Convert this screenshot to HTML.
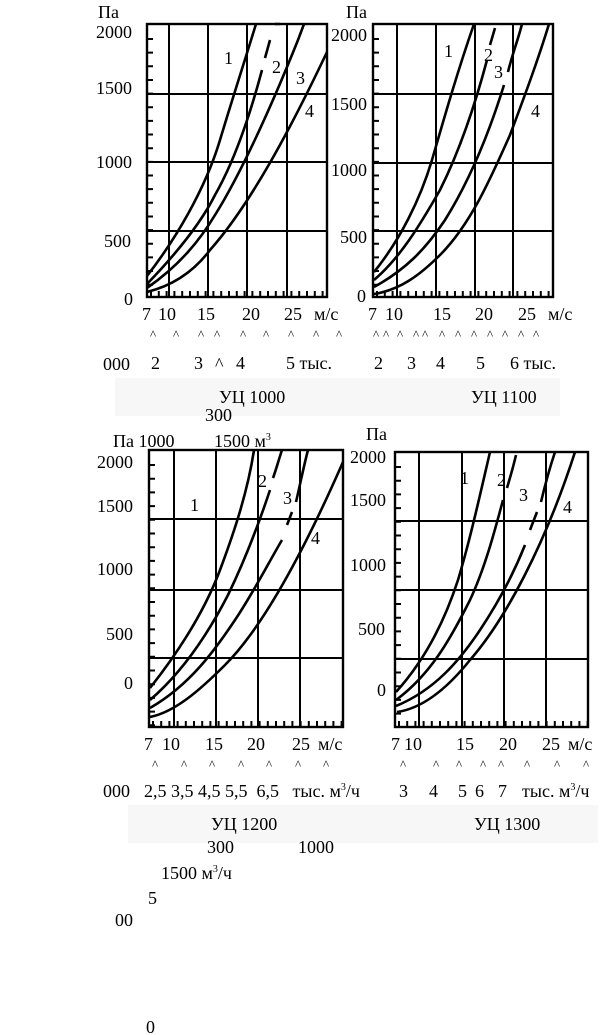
<!DOCTYPE html>
<html><head><meta charset="utf-8"><style>
html,body{margin:0;padding:0;background:#fff;}
svg{display:block;}
text{font-family:"Liberation Serif",serif;font-size:18px;fill:#000;}
.k{font-size:13px;}
.c{fill:none;stroke:#000;stroke-width:2.6;}
.g{stroke:#000;stroke-width:2;}
.f{fill:none;stroke:#000;stroke-width:2.4;}
</style></head><body>
<svg width="609" height="1035" viewBox="0 0 609 1035" xmlns="http://www.w3.org/2000/svg">
<rect x="0" y="0" width="609" height="1035" fill="#fff"/>
<rect x="115" y="378" width="445" height="38" fill="#f7f7f7"/>
<rect x="128" y="805" width="470" height="38" fill="#f7f7f7"/>

<!-- ===== TL: УЦ 1000 ===== -->
<g>
<rect class="f" x="147" y="24" width="180" height="273"/>
<line class="g" x1="147" y1="94" x2="327" y2="94"/>
<line class="g" x1="147" y1="162" x2="327" y2="162"/>
<line class="g" x1="147" y1="231" x2="327" y2="231"/>
<line class="g" x1="169" y1="24" x2="169" y2="297"/>
<line class="g" x1="208" y1="24" x2="208" y2="297"/>
<line class="g" x1="247" y1="24" x2="247" y2="297"/>
<line class="g" x1="287" y1="24" x2="287" y2="297"/>
<line x1="150" y1="30" x2="150" y2="290" stroke="#000" stroke-width="6" stroke-dasharray="2 11.65" transform="translate(0,8)"/>
<line x1="150" y1="294" x2="327" y2="294" stroke="#000" stroke-width="6" stroke-dasharray="2 5.8"/>
<path class="c" d="M147,276 C175,240 205,190 220,140 C232,100 245,60 256,24"/>
<path class="c" d="M147,284 C175,255 200,225 215,195 C235,160 250,115 262,70 M265,58 L270,40 M275,24 L280,24"/>
<path class="c" d="M147,288 C180,265 200,240 215,215 C240,175 270,110 298,40 L304,24"/>
<path class="c" d="M147,292 C175,285 195,270 210,250 C250,205 290,130 327,52"/>
<text x="98" y="18">Па</text>
<text x="96" y="38">2000</text>
<text x="96" y="94">1500</text>
<text x="96" y="168">1000</text>
<text x="104" y="247">500</text>
<text x="124" y="305">0</text>
<text x="142" y="320">7</text>
<text x="158" y="320">10</text>
<text x="197" y="320">15</text>
<text x="242" y="320">20</text>
<text x="284" y="320">25</text>
<text x="314" y="320">м/с</text>
<text class="k" x="150" y="339">^</text><text class="k" x="173" y="339">^</text><text class="k" x="198" y="339">^</text><text class="k" x="214" y="339">^</text><text class="k" x="240" y="339">^</text><text class="k" x="263" y="339">^</text><text class="k" x="288" y="339">^</text><text class="k" x="313" y="339">^</text><text class="k" x="336" y="339">^</text>
<text x="103" y="370">000</text>
<text x="151" y="369">2</text>
<text x="194" y="369">3</text>
<text x="215" y="370" font-size="10">^</text>
<text x="236" y="369">4</text>
<text x="286" y="369">5 тыс.</text>
<text x="219" y="403">УЦ 1000</text>
<text x="205" y="421" font-size="14">300</text>
<text x="272" y="73">2</text>
<text x="296" y="84">3</text>
<text x="305" y="117">4</text>
<text x="224" y="64">1</text>
</g>

<!-- ===== TR: УЦ 1100 ===== -->
<g>
<rect class="f" x="373" y="24" width="180" height="273"/>
<line class="g" x1="373" y1="94" x2="553" y2="94"/>
<line class="g" x1="373" y1="163" x2="553" y2="163"/>
<line class="g" x1="373" y1="231" x2="553" y2="231"/>
<line class="g" x1="397" y1="24" x2="397" y2="297"/>
<line class="g" x1="436" y1="24" x2="436" y2="297"/>
<line class="g" x1="475" y1="24" x2="475" y2="297"/>
<line class="g" x1="513" y1="24" x2="513" y2="297"/>
<line x1="376" y1="30" x2="376" y2="290" stroke="#000" stroke-width="6" stroke-dasharray="2 11.65" transform="translate(0,8)"/>
<line x1="376" y1="294" x2="553" y2="294" stroke="#000" stroke-width="6" stroke-dasharray="2 5.8"/>
<path class="c" d="M374,272 C400,240 420,200 432,160 C445,115 458,70 474,24"/>
<path class="c" d="M374,280 C400,258 420,225 440,190 C460,150 475,105 487,60 M490,45 L495,28"/>
<path class="c" d="M374,287 C405,270 425,250 445,220 C470,180 490,130 504,85 M508,72 C512,55 518,40 522,24"/>
<path class="c" d="M374,294 C400,290 420,275 440,255 C470,225 490,180 510,135 C525,95 538,60 549,24"/>
<text x="346" y="18">Па</text>
<text x="331" y="41">2000</text>
<text x="331" y="110">1500</text>
<text x="331" y="176">1000</text>
<text x="340" y="243">500</text>
<text x="357" y="302">0</text>
<text x="368" y="320">7</text>
<text x="385" y="320">10</text>
<text x="433" y="320">15</text>
<text x="475" y="320">20</text>
<text x="518" y="320">25</text>
<text x="548" y="320">м/с</text>
<text class="k" x="373" y="339">^</text><text class="k" x="383" y="339">^</text><text class="k" x="397" y="339">^</text><text class="k" x="413" y="339">^</text><text class="k" x="422" y="339">^</text><text class="k" x="439" y="339">^</text><text class="k" x="455" y="339">^</text><text class="k" x="471" y="339">^</text><text class="k" x="487" y="339">^</text><text class="k" x="502" y="339">^</text><text class="k" x="518" y="339">^</text><text class="k" x="533" y="339">^</text>
<text x="374" y="369">2</text>
<text x="407" y="369">3</text>
<text x="436" y="369">4</text>
<text x="476" y="369">5</text>
<text x="510" y="369">6 тыс.</text>
<text x="471" y="403">УЦ 1100</text>
<text x="444" y="57">1</text>
<text x="484" y="61">2</text>
<text x="494" y="78">3</text>
<text x="531" y="117">4</text>
</g>

<!-- ===== BL: УЦ 1200 ===== -->
<g>
<rect class="f" x="149" y="450" width="194" height="277"/>
<line class="g" x1="149" y1="519" x2="343" y2="519"/>
<line class="g" x1="149" y1="590" x2="343" y2="590"/>
<line class="g" x1="149" y1="658" x2="343" y2="658"/>
<line class="g" x1="174" y1="450" x2="174" y2="727"/>
<line class="g" x1="216" y1="450" x2="216" y2="727"/>
<line class="g" x1="258" y1="450" x2="258" y2="727"/>
<line class="g" x1="300" y1="450" x2="300" y2="727"/>
<line x1="152" y1="456" x2="152" y2="720" stroke="#000" stroke-width="6" stroke-dasharray="2 11.7" transform="translate(0,8)"/>
<line x1="152" y1="724" x2="343" y2="724" stroke="#000" stroke-width="6" stroke-dasharray="2 6.2"/>
<path class="c" d="M150,688 C180,650 205,610 220,570 C235,530 248,490 254,450"/>
<path class="c" d="M150,700 C185,670 210,630 228,595 C245,560 260,520 270,490 M273,478 C276,470 278,462 282,450"/>
<path class="c" d="M150,708 C190,685 215,650 235,620 C255,590 270,560 282,540 M287,525 L292,512 M296,502 C300,485 304,465 308,450"/>
<path class="c" d="M150,717 C175,712 200,690 225,665 C260,630 300,560 343,462"/>
<text x="113" y="447">Па 1000</text>
<text x="214" y="447">1500 м<tspan font-size="10" dy="-7">3</tspan></text>
<text x="97" y="468">2000</text>
<text x="97" y="512">1500</text>
<text x="97" y="575">1000</text>
<text x="106" y="640">500</text>
<text x="124" y="689">0</text>
<text x="144" y="750">7</text>
<text x="162" y="750">10</text>
<text x="205" y="750">15</text>
<text x="247" y="750">20</text>
<text x="292" y="750">25</text>
<text x="318" y="750">м/с</text>
<text class="k" x="152" y="769">^</text><text class="k" x="181" y="769">^</text><text class="k" x="209" y="769">^</text><text class="k" x="238" y="769">^</text><text class="k" x="266" y="769">^</text><text class="k" x="295" y="769">^</text><text class="k" x="323" y="769">^</text>
<text x="103" y="797">000</text>
<text x="144" y="797">2,5 3,5 4,5 5,5 &#160;6,5 &#160; тыс. м<tspan font-size="10" dy="-7">3</tspan><tspan dy="7">/ч</tspan></text>
<text x="211" y="830">УЦ 1200</text>
<text x="207" y="853" font-size="15">300</text>
<text x="298" y="853" font-size="15">1000</text>
<text x="161" y="879">1500 м<tspan font-size="10" dy="-7">3</tspan><tspan dy="7">/ч</tspan></text>
<text x="148" y="904">5</text>
<text x="115" y="926">00</text>
<text x="146" y="1033">0</text>
<text x="190" y="511">1</text>
<text x="258" y="487">2</text>
<text x="283" y="504">3</text>
<text x="311" y="544">4</text>
</g>

<!-- ===== BR: УЦ 1300 ===== -->
<g>
<rect class="f" x="395" y="452" width="193" height="275"/>
<line class="g" x1="395" y1="521" x2="588" y2="521"/>
<line class="g" x1="395" y1="590" x2="588" y2="590"/>
<line class="g" x1="395" y1="659" x2="588" y2="659"/>
<line class="g" x1="419" y1="452" x2="419" y2="727"/>
<line class="g" x1="462" y1="452" x2="462" y2="727"/>
<line class="g" x1="504" y1="452" x2="504" y2="727"/>
<line class="g" x1="546" y1="452" x2="546" y2="727"/>
<line x1="398" y1="458" x2="398" y2="720" stroke="#000" stroke-width="6" stroke-dasharray="2 11.7" transform="translate(0,8)"/>
<line x1="398" y1="724" x2="588" y2="724" stroke="#000" stroke-width="6" stroke-dasharray="2 6.2"/>
<path class="c" d="M396,692 C425,660 445,620 458,580 C470,540 480,495 490,452"/>
<path class="c" d="M396,700 C430,675 450,640 470,600 C485,568 495,530 503,500 M507,488 C510,478 513,468 516,455"/>
<path class="c" d="M396,706 C435,690 460,660 480,630 C500,600 515,570 525,545 M530,530 L537,512 M541,502 C545,485 550,467 555,452"/>
<path class="c" d="M397,712 C425,708 450,685 470,660 C505,620 545,545 575,452"/>
<text x="366" y="440">Па</text>
<text x="350" y="463">2000</text>
<text x="350" y="506">1500</text>
<text x="350" y="571">1000</text>
<text x="358" y="635">500</text>
<text x="377" y="696">0</text>
<text x="391" y="750">7</text>
<text x="404" y="750">10</text>
<text x="456" y="750">15</text>
<text x="499" y="750">20</text>
<text x="542" y="750">25</text>
<text x="568" y="750">м/с</text>
<text class="k" x="400" y="769">^</text><text class="k" x="433" y="769">^</text><text class="k" x="456" y="769">^</text><text class="k" x="480" y="769">^</text><text class="k" x="498" y="769">^</text><text class="k" x="524" y="769">^</text><text class="k" x="554" y="769">^</text><text class="k" x="583" y="769">^</text>
<text x="399" y="797">3</text>
<text x="429" y="797">4</text>
<text x="458" y="797">5</text>
<text x="475" y="797">6</text>
<text x="498" y="797">7</text>
<text x="522" y="797">тыс. м<tspan font-size="10" dy="-7">3</tspan><tspan dy="7">/ч</tspan></text>
<text x="474" y="830">УЦ 1300</text>
<text x="460" y="484">1</text>
<text x="497" y="486">2</text>
<text x="519" y="501">3</text>
<text x="563" y="513">4</text>
</g>
</svg>
</body></html>
